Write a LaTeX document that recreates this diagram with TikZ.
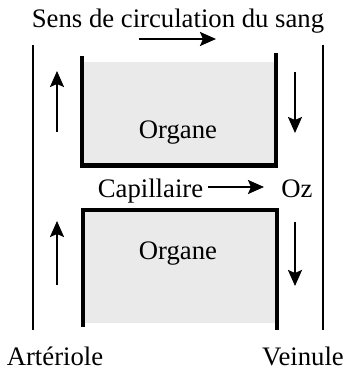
\documentclass[tikz,border=0pt]{standalone}
\usepackage{fontspec}
\setmainfont{Liberation Serif}
\usepackage{tikz}
\definecolor{organgray}{RGB}{234,234,234}
\usetikzlibrary{arrows.meta}
\pgfdeclarelayer{edgelayer}
\pgfdeclarelayer{nodelayer}
\pgfsetlayers{edgelayer,nodelayer,main}
\tikzstyle{label}=[inner sep=0pt,anchor=base,font=\fontsize{15.2}{18}\selectfont]
\tikzstyle{vessel}=[line width=1.2pt]
\tikzstyle{wall}=[line width=2.4pt]
\tikzstyle{flow}=[line width=1.3pt,-{Stealth[length=3.2mm,width=2.8mm,inset=0.6mm]}]

\begin{document}
\begin{tikzpicture}
            \useasboundingbox (0, 0) rectangle (7, 7.42);

            \begin{pgfonlayer}{nodelayer}
            \node [style = label] (title) at (3.56, 6.87) {Sens de circulation du sang};
            \node [style = label] (organ1) at (3.56, 4.64) {Organe};
            \node [style = label] (capil) at (3.01, 3.46) {Capillaire};
            \node [style = label] (oz) at (5.94, 3.46) {Oz};
            \node [style = label] (organ2) at (3.56, 2.22) {Organe};
            \node [style = label] (arter) at (1.10, 0.12) {Artériole};
            \node [style = label] (vein) at (6.06, 0.12) {Veinule};

            \coordinate (top_a) at (2.78, 6.64);
            \coordinate (top_b) at (4.32, 6.64);
            \coordinate (cap_a) at (4.16, 3.68);
            \coordinate (cap_b) at (5.28, 3.68);

            \coordinate (up1_a) at (1.14, 4.78);
            \coordinate (up1_b) at (1.14, 6.00);
            \coordinate (dn1_a) at (5.90, 5.98);
            \coordinate (dn1_b) at (5.90, 4.76);
            \coordinate (up2_a) at (1.14, 1.72);
            \coordinate (up2_b) at (1.14, 3.00);
            \coordinate (dn2_a) at (5.90, 2.98);
            \coordinate (dn2_b) at (5.90, 1.70);

            \coordinate (art_top) at (0.66, 6.52);
            \coordinate (art_bot) at (0.66, 0.82);
            \coordinate (vein_top) at (6.46, 6.52);
            \coordinate (vein_bot) at (6.46, 0.82);
            \end{pgfonlayer}

        \begin{pgfonlayer}{edgelayer}
            % organs
            \fill [organgray] (1.66, 6.18) rectangle (5.50, 4.12);
            \fill [organgray] (1.66, 3.18) rectangle (5.52, 0.96);
            \draw [style = wall] (1.64, 6.30) -- (1.64, 4.11) -- (5.52, 4.11) -- (5.52, 6.36);
            \draw [style = wall] (1.66, 0.88) -- (1.66, 3.22) -- (5.54, 3.22) -- (5.54, 0.82);

            \draw [style = vessel] (art_top) to (art_bot);
            \draw [style = vessel] (vein_top) to (vein_bot);

            \draw [style = flow] (top_a) to (top_b);
            \draw [style = flow] (cap_a) to (cap_b);
            \draw [style = flow] (up1_a) to (up1_b);
            \draw [style = flow] (dn1_a) to (dn1_b);
            \draw [style = flow] (up2_a) to (up2_b);
            \draw [style = flow] (dn2_a) to (dn2_b);
        \end{pgfonlayer}
    \end{tikzpicture}
\end{document}
